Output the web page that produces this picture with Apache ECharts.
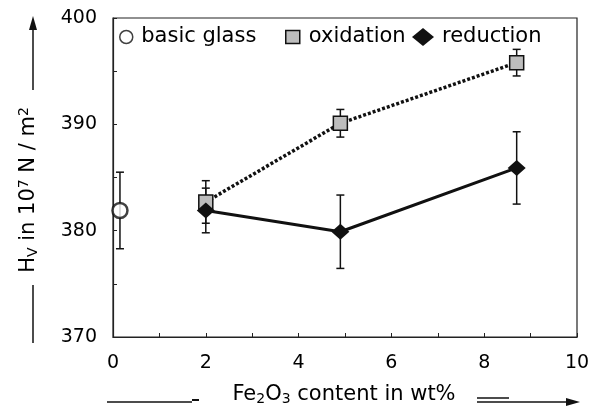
<!DOCTYPE html>
<html>
<head>
<meta charset="utf-8">
<script src="https://cdn.jsdelivr.net/npm/echarts@6/dist/echarts.min.js"></script>
<style>html,body{margin:0;padding:0;background:#fff}#c{width:599px;height:414px}</style>
</head>
<body>
<div id="c"></div>
<script>
// Data
const xTicks = [0, 2, 4, 6, 8, 10];
const yTicks = [370, 380, 390, 400];
const basicX = [0.15];
const basicY = [381.9];
const basicErr = [3.6];
const oxX = [2.0, 4.9, 8.7];
const oxY = [382.7, 390.1, 395.8];
const oxErr = [2.0, 1.3, 1.25];
const redX = [2.0, 4.9, 8.7];
const redY = [381.9, 379.9, 385.9];
const redErr = [2.1, 3.45, 3.4];

const FONT = '"DejaVu Sans", "Liberation Sans", Arial, sans-serif';

function pts(xs, ys) { return xs.map((x, i) => [x, ys[i]]); }
function errData(xs, ys, es) { return xs.map((x, i) => [x, ys[i] - es[i], ys[i] + es[i]]); }

function errRender(params, api) {
  const x = api.value(0);
  const lo = api.coord([x, api.value(1)]);
  const hi = api.coord([x, api.value(2)]);
  const cap = 4;
  const st = { stroke: '#111', lineWidth: 1.5 };
  return {
    type: 'group',
    children: [
      { type: 'line', shape: { x1: lo[0], y1: lo[1], x2: hi[0], y2: hi[1] }, style: st },
      { type: 'line', shape: { x1: lo[0] - cap, y1: lo[1], x2: lo[0] + cap, y2: lo[1] }, style: st },
      { type: 'line', shape: { x1: hi[0] - cap, y1: hi[1], x2: hi[0] + cap, y2: hi[1] }, style: st }
    ]
  };
}

const chart = echarts.init(document.getElementById('c'), null, { renderer: 'canvas' });

const legendText = { fontFamily: FONT, fontSize: 21, color: '#000', lineHeight: 22 };

chart.setOption({
  backgroundColor: '#fff',
  animation: false,
  textStyle: { fontFamily: FONT },
  grid: { left: 113, right: 22, top: 18, bottom: 77, show: true, borderColor: '#222', borderWidth: 1.2, backgroundColor: 'transparent' },
  legend: [
    { data: [{ name: 'basic glass', icon: 'circle', itemStyle: { color: '#fff', borderColor: '#111', borderWidth: 1.5 } }],
      left: 119, top: 26, padding: 0, itemWidth: 18, itemHeight: 13, textStyle: Object.assign({ padding: [0, 0, 0, 1] }, legendText), selectedMode: false },
    { data: [{ name: 'oxidation', icon: 'rect', itemStyle: { color: '#bdbdbd', borderColor: '#111', borderWidth: 1.5 } }],
      left: 285, top: 26, padding: 0, itemWidth: 14, itemHeight: 13, textStyle: Object.assign({ padding: [0, 0, 0, 4] }, legendText), selectedMode: false },
    { data: [{ name: 'reduction', icon: 'diamond', itemStyle: { color: '#111' } }],
      left: 412, top: 24, padding: 0, itemWidth: 22, itemHeight: 18, textStyle: Object.assign({ padding: [4, 0, 0, 3] }, legendText), selectedMode: false }
  ],
  xAxis: {
    type: 'value', min: 0, max: 10, interval: 2,
    axisLine: { show: true, lineStyle: { color: '#222', width: 1.2 } },
    axisTick: { show: true, inside: true, length: 4, lineStyle: { color: '#222' } },
    minorTick: { show: true, splitNumber: 2, length: 4, lineStyle: { color: '#222' } },
    splitLine: { show: false },
    axisLabel: { margin: 17, fontSize: 19, color: '#000', fontFamily: FONT,
      formatter: v => xTicks.includes(v) ? String(v) : '' }
  },
  yAxis: {
    type: 'value', min: 370, max: 400, interval: 10,
    axisLine: { show: true, lineStyle: { color: '#222', width: 1.2 } },
    axisTick: { show: true, inside: true, length: 4, lineStyle: { color: '#222' } },
    minorTick: { show: true, splitNumber: 2, length: 4, lineStyle: { color: '#222' } },
    splitLine: { show: false },
    axisLabel: { margin: 16, fontSize: 19, color: '#000', fontFamily: FONT,
      formatter: v => yTicks.includes(v) ? String(v) : '' }
  },
  series: [
    { type: 'custom', name: 'errBasic', renderItem: errRender, data: errData(basicX, basicY, basicErr), z: 1, encode: { x: 0, y: [1, 2] } },
    { type: 'custom', name: 'errOx', renderItem: errRender, data: errData(oxX, oxY, oxErr), z: 1, encode: { x: 0, y: [1, 2] } },
    { type: 'custom', name: 'errRed', renderItem: errRender, data: errData(redX, redY, redErr), z: 1, encode: { x: 0, y: [1, 2] } },
    { type: 'line', name: 'oxidation', data: pts(oxX, oxY), z: 3,
      lineStyle: { color: '#111', width: 3.5, type: [3, 2] },
      symbol: 'rect', symbolSize: 14,
      itemStyle: { color: '#bdbdbd', borderColor: '#111', borderWidth: 1.5 } },
    { type: 'line', name: 'reduction', data: pts(redX, redY), z: 4,
      lineStyle: { color: '#111', width: 3 },
      symbol: 'diamond', symbolSize: [18, 16],
      itemStyle: { color: '#111' } },
    { type: 'scatter', name: 'basic glass', data: pts(basicX, basicY), z: 5,
      symbol: 'circle', symbolSize: 15,
      itemStyle: { color: '#fff', borderColor: '#111', borderWidth: 2.5 } }
  ],
  graphic: [
    // y-axis title with arrow
    { type: 'text', x: 29, y: 190, rotation: Math.PI / 2,
      style: { text: 'H{sub|V} in 10{sup|7} N / m{sup|2}', fontSize: 21, fontFamily: FONT, fill: '#000',
        align: 'center', verticalAlign: 'middle',
        rich: { sub: { fontSize: 14, fontFamily: FONT, fill: '#000', padding: [8, 0, 0, 0] },
                sup: { fontSize: 14, fontFamily: FONT, fill: '#000', padding: [0, 0, 10, 0] } } } },
    { type: 'line', shape: { x1: 33, y1: 90, x2: 33, y2: 28 }, style: { stroke: '#111', lineWidth: 1.5 } },
    { type: 'polygon', shape: { points: [[33, 16], [29, 30], [37, 30]] }, style: { fill: '#111' } },
    { type: 'line', shape: { x1: 33, y1: 285, x2: 33, y2: 343 }, style: { stroke: '#111', lineWidth: 1.5 } },
    // x-axis title with arrow
    { type: 'text', x: 344, y: 395,
      style: { text: 'Fe{sub|2}O{sub|3} content in wt%', fontSize: 21, fontFamily: FONT, fill: '#000',
        align: 'center', verticalAlign: 'middle',
        rich: { sub: { fontSize: 14, fontFamily: FONT, fill: '#000', padding: [9, 0, 0, 0] } } } },
    { type: 'line', shape: { x1: 107, y1: 402, x2: 192, y2: 402 }, style: { stroke: '#111', lineWidth: 1.5 } },
    { type: 'line', shape: { x1: 192, y1: 400, x2: 199, y2: 400 }, style: { stroke: '#111', lineWidth: 2 } },
    { type: 'line', shape: { x1: 477, y1: 398, x2: 509, y2: 398 }, style: { stroke: '#111', lineWidth: 1.5 } },
    { type: 'line', shape: { x1: 477, y1: 402, x2: 570, y2: 402 }, style: { stroke: '#111', lineWidth: 1.5 } },
    { type: 'polygon', shape: { points: [[580, 402], [566, 398], [566, 406]] }, style: { fill: '#111' } }
  ]
});
</script>
</body>
</html>
